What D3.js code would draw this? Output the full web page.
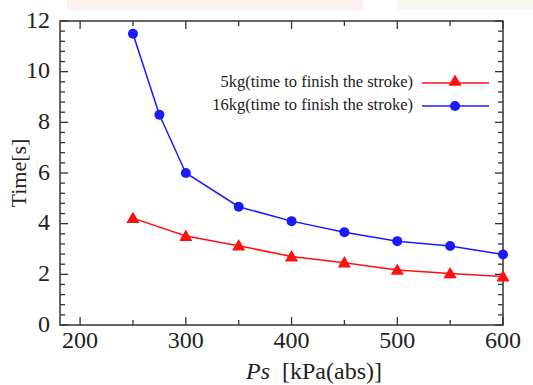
<!DOCTYPE html>
<html>
<head>
<meta charset="utf-8">
<script src="https://cdn.jsdelivr.net/npm/d3@7"></script>
<style>
  body { margin: 0; background: #fff; }
  svg { display: block; font-family: "Liberation Serif", "Times New Roman", serif; }
</style>
</head>
<body>
<svg width="533" height="385"></svg>
<script>
const pressure16 = [250, 275, 300, 350, 400, 450, 500, 550, 600];
const time16 = [11.5, 8.3, 6.0, 4.67, 4.1, 3.66, 3.31, 3.12, 2.78];
const pressure5 = [250, 300, 350, 400, 450, 500, 550, 600];
const time5 = [4.22, 3.51, 3.13, 2.70, 2.46, 2.17, 2.03, 1.91];
const xTicks = [200, 300, 400, 500, 600];
const yTicks = [0, 2, 4, 6, 8, 10, 12];
const seriesNames = ["5kg(time to finish the stroke)", "16kg(time to finish the stroke)"];

const svg = d3.select("svg");
const margin = {left: 60, right: 30, top: 21, bottom: 60};
const W = 533, H = 385;

// faint bands at the top of the original scan
svg.append("rect").attr("x", 67).attr("y", 0).attr("width", 296).attr("height", 10).attr("fill", "#fdf0ee");
svg.append("rect").attr("x", 397).attr("y", 0).attr("width", 136).attr("height", 10).attr("fill", "#f3f9ee");

const x = d3.scaleLinear().domain([181, 600]).range([margin.left, W - margin.right]);
const y = d3.scaleLinear().domain([0, 12]).range([H - margin.bottom, margin.top]);

const x0 = x.range()[0], x1 = x.range()[1];
const y0 = y.range()[0], y1 = y.range()[1];

// ticks, pointing inward on all four sides
const axisColor = "#333";
const g = svg.append("g").attr("stroke", axisColor).attr("stroke-width", 1.3);

d3.range(200, 601, 50).forEach(v => {
  const len = v % 100 === 0 ? 8 : 5;
  g.append("line").attr("x1", x(v)).attr("x2", x(v)).attr("y1", y0).attr("y2", y0 - len);
  g.append("line").attr("x1", x(v)).attr("x2", x(v)).attr("y1", y1).attr("y2", y1 + len);
});
d3.range(0, 31).forEach(k => {
  const v = k * 0.4;
  const len = k % 5 === 0 ? 8 : 5;
  g.append("line").attr("x1", x0).attr("x2", x0 + len).attr("y1", y(v)).attr("y2", y(v));
  g.append("line").attr("x1", x1).attr("x2", x1 - len).attr("y1", y(v)).attr("y2", y(v));
});

svg.append("rect")
  .attr("x", x0).attr("y", y1)
  .attr("width", x1 - x0).attr("height", y0 - y1)
  .attr("fill", "none").attr("stroke", axisColor).attr("stroke-width", 1.5);

// tick labels
svg.append("g").selectAll("text")
  .data(xTicks)
  .join("text")
  .attr("x", d => x(d))
  .attr("y", y0 + 23)
  .attr("text-anchor", "middle")
  .attr("font-size", 24)
  .attr("fill", "#222")
  .text(d => d);

svg.append("g").selectAll("text")
  .data(yTicks)
  .join("text")
  .attr("x", x0 - 10)
  .attr("y", d => y(d))
  .attr("dy", "0.28em")
  .attr("text-anchor", "end")
  .attr("font-size", 24)
  .attr("fill", "#222")
  .text(d => d);

// axis titles
svg.append("text")
  .attr("transform", `translate(26,${(y0 + y1) / 2}) rotate(-90)`)
  .attr("text-anchor", "middle")
  .attr("font-size", 22)
  .attr("fill", "#222")
  .text("Time[s]");

const xt = svg.append("text")
  .attr("x", 314)
  .attr("y", 379)
  .attr("text-anchor", "middle")
  .attr("font-size", 24)
  .attr("fill", "#222");
xt.append("tspan").attr("font-style", "italic").text("Ps");
xt.append("tspan").text("\u00a0 [kPa(abs)]");

// series
const line = d3.line().x(d => x(d[0])).y(d => y(d[1]));
const red = "#ff1010", blue = "#1a1aff";
const data5 = pressure5.map((p, i) => [p, time5[i]]);
const data16 = pressure16.map((p, i) => [p, time16[i]]);
const tri = d3.symbol().type(d3.symbolTriangle).size(75);

svg.append("path").datum(data5).attr("d", line)
  .attr("fill", "none").attr("stroke", red).attr("stroke-width", 1.5);
svg.append("g").selectAll("path")
  .data(data5)
  .join("path")
  .attr("transform", d => `translate(${x(d[0])},${y(d[1]) + 1})`)
  .attr("d", tri)
  .attr("fill", red);

svg.append("path").datum(data16).attr("d", line)
  .attr("fill", "none").attr("stroke", blue).attr("stroke-width", 1.5);
svg.append("g").selectAll("circle")
  .data(data16)
  .join("circle")
  .attr("cx", d => x(d[0]))
  .attr("cy", d => y(d[1]))
  .attr("r", 5)
  .attr("fill", blue);

// legend
const legend = svg.append("g").attr("font-size", 16.5).attr("fill", "#222");
[[red, 83], [blue, 106]].forEach(([c, ly], i) => {
  legend.append("text")
    .attr("x", 413).attr("y", ly - 1).attr("dy", "0.32em")
    .attr("text-anchor", "end")
    .text(seriesNames[i]);
  legend.append("line")
    .attr("x1", 422).attr("x2", 489).attr("y1", ly).attr("y2", ly)
    .attr("stroke", c).attr("stroke-width", 1.5);
  if (i === 0) {
    legend.append("path").attr("transform", `translate(455,${ly - 1})`).attr("d", tri).attr("fill", c);
  } else {
    legend.append("circle").attr("cx", 455).attr("cy", ly).attr("r", 5).attr("fill", c);
  }
});
</script>
</body>
</html>
